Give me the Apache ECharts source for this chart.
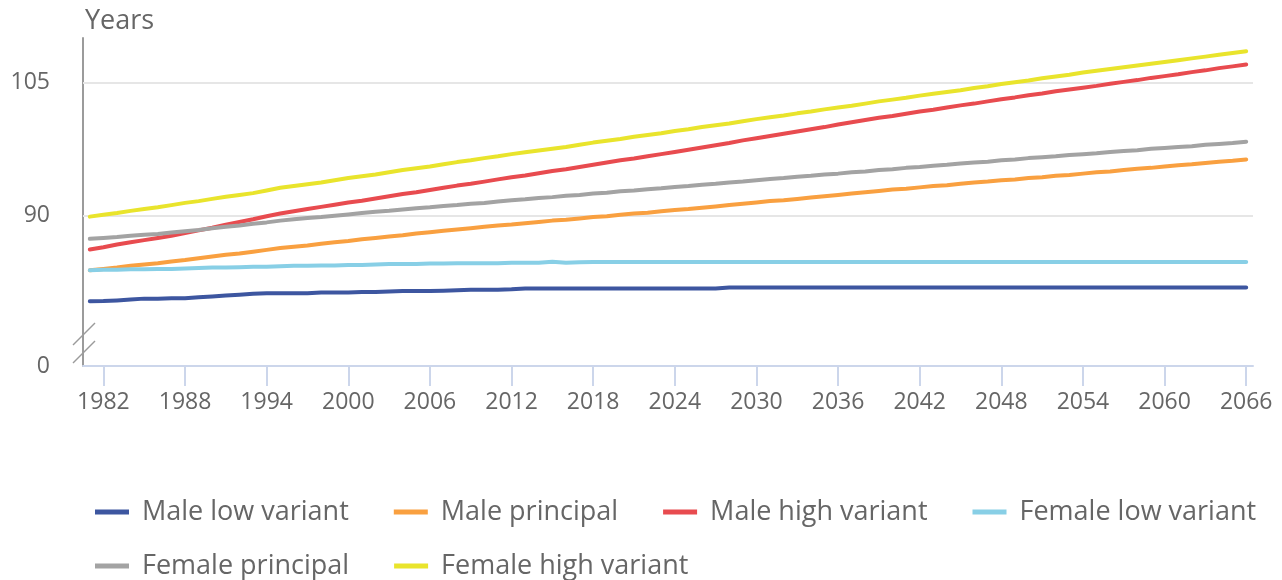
<!DOCTYPE html>
<html>
<head>
<meta charset="utf-8">
<script src="https://cdn.jsdelivr.net/npm/echarts@6/dist/echarts.min.js"></script>
<style>
  html, body { margin: 0; padding: 0; background: #fff; }
  #chart { width: 1282px; height: 580px; }
</style>
</head>
<body>
<div id="chart"></div>
<script>
const years = [
  1981, 1982, 1983, 1984, 1985, 1986, 1987, 1988, 1989, 1990,
  1991, 1992, 1993, 1994, 1995, 1996, 1997, 1998, 1999, 2000,
  2001, 2002, 2003, 2004, 2005, 2006, 2007, 2008, 2009, 2010,
  2011, 2012, 2013, 2014, 2015, 2016, 2017, 2018, 2019, 2020,
  2021, 2022, 2023, 2024, 2025, 2026, 2027, 2028, 2029, 2030,
  2031, 2032, 2033, 2034, 2035, 2036, 2037, 2038, 2039, 2040,
  2041, 2042, 2043, 2044, 2045, 2046, 2047, 2048, 2049, 2050,
  2051, 2052, 2053, 2054, 2055, 2056, 2057, 2058, 2059, 2060,
  2061, 2062, 2063, 2064, 2065, 2066
]

const maleLow = [
  80.3, 80.32, 80.4, 80.5, 80.6, 80.6, 80.65, 80.65, 80.75, 80.85,
  80.95, 81.05, 81.15, 81.2, 81.2, 81.2, 81.2, 81.3, 81.3, 81.3,
  81.35, 81.35, 81.4, 81.45, 81.45, 81.45, 81.5, 81.55, 81.6, 81.6,
  81.6, 81.65, 81.75, 81.75, 81.75, 81.75, 81.75, 81.75, 81.75, 81.75,
  81.75, 81.75, 81.75, 81.75, 81.75, 81.75, 81.75, 81.85, 81.85, 81.85,
  81.85, 81.85, 81.85, 81.85, 81.85, 81.85, 81.85, 81.85, 81.85, 81.85,
  81.85, 81.85, 81.85, 81.85, 81.85, 81.85, 81.85, 81.85, 81.85, 81.85,
  81.85, 81.85, 81.85, 81.85, 81.85, 81.85, 81.85, 81.85, 81.85, 81.85,
  81.85, 81.85, 81.85, 81.85, 81.85, 81.85
]
const malePrincipal = [
  83.8, 83.95, 84.1, 84.3, 84.45, 84.6, 84.8, 84.95, 85.15, 85.35,
  85.55, 85.7, 85.9, 86.1, 86.3, 86.45, 86.6, 86.8, 86.95, 87.1,
  87.3, 87.45, 87.6, 87.75, 87.95, 88.1, 88.25, 88.4, 88.55, 88.7,
  88.85, 88.95, 89.1, 89.25, 89.4, 89.5, 89.65, 89.8, 89.9, 90.05,
  90.2, 90.3, 90.45, 90.6, 90.7, 90.85, 91.0, 91.15, 91.3, 91.45,
  91.6, 91.7, 91.85, 92.0, 92.15, 92.3, 92.45, 92.6, 92.75, 92.9,
  93.0, 93.15, 93.3, 93.4, 93.55, 93.7, 93.8, 93.95, 94.05, 94.2,
  94.3, 94.45, 94.55, 94.7, 94.85, 94.95, 95.1, 95.25, 95.35, 95.5,
  95.65, 95.75, 95.9, 96.05, 96.15, 96.3
]
const maleHigh = [
  86.15, 86.4, 86.7, 86.95, 87.2, 87.45, 87.7, 88.0, 88.3, 88.6,
  88.95, 89.25, 89.55, 89.9, 90.2, 90.45, 90.7, 90.95, 91.2, 91.45,
  91.65, 91.9, 92.15, 92.4, 92.6, 92.85, 93.1, 93.35, 93.55, 93.8,
  94.05, 94.3, 94.5, 94.75, 95.0, 95.2, 95.45, 95.7, 95.95, 96.2,
  96.4, 96.65, 96.9, 97.15, 97.4, 97.65, 97.9, 98.15, 98.45, 98.7,
  98.95, 99.2, 99.45, 99.7, 99.95, 100.25, 100.5, 100.75, 101.0, 101.2,
  101.45, 101.7, 101.9, 102.15, 102.4, 102.6, 102.85, 103.1, 103.3, 103.55,
  103.75, 104.0, 104.2, 104.4, 104.6, 104.85, 105.05, 105.25, 105.5, 105.7,
  105.9, 106.15, 106.35, 106.6, 106.8, 107.0
]
const femaleLow = [
  83.8, 83.85, 83.85, 83.9, 83.9, 83.95, 83.95, 84.0, 84.05, 84.1,
  84.1, 84.15, 84.2, 84.2, 84.25, 84.3, 84.3, 84.35, 84.35, 84.4,
  84.4, 84.45, 84.5, 84.5, 84.5, 84.55, 84.55, 84.6, 84.6, 84.6,
  84.6, 84.65, 84.65, 84.65, 84.75, 84.65, 84.7, 84.72, 84.72, 84.72,
  84.72, 84.72, 84.72, 84.72, 84.72, 84.72, 84.72, 84.72, 84.72, 84.72,
  84.72, 84.72, 84.72, 84.72, 84.72, 84.72, 84.72, 84.72, 84.72, 84.72,
  84.72, 84.72, 84.72, 84.72, 84.72, 84.72, 84.72, 84.72, 84.72, 84.72,
  84.72, 84.72, 84.72, 84.72, 84.72, 84.72, 84.72, 84.72, 84.72, 84.72,
  84.72, 84.72, 84.72, 84.72, 84.72, 84.72
]
const femalePrincipal = [
  87.35, 87.45, 87.55, 87.7, 87.8, 87.9, 88.05, 88.2, 88.35, 88.55,
  88.7, 88.85, 89.05, 89.2, 89.4, 89.55, 89.7, 89.8, 89.95, 90.1,
  90.25, 90.4, 90.5, 90.65, 90.8, 90.9, 91.05, 91.15, 91.3, 91.4,
  91.55, 91.7, 91.8, 91.95, 92.05, 92.2, 92.3, 92.45, 92.55, 92.7,
  92.8, 92.95, 93.05, 93.2, 93.3, 93.45, 93.55, 93.7, 93.8, 93.95,
  94.1, 94.2, 94.35, 94.45, 94.6, 94.7, 94.85, 94.95, 95.1, 95.2,
  95.35, 95.45, 95.6, 95.7, 95.85, 95.95, 96.05, 96.2, 96.3, 96.45,
  96.55, 96.65, 96.8, 96.9, 97.0, 97.15, 97.25, 97.35, 97.5, 97.6,
  97.7, 97.8, 97.95, 98.05, 98.15, 98.3
]
const femaleHigh = [
  89.85, 90.05, 90.25, 90.5, 90.7, 90.9, 91.15, 91.4, 91.6, 91.85,
  92.1, 92.3, 92.5, 92.8, 93.1, 93.3, 93.5, 93.7, 93.95, 94.2,
  94.4, 94.6, 94.85, 95.1, 95.3, 95.5, 95.75, 96.0, 96.2, 96.45,
  96.65, 96.9, 97.1, 97.3, 97.5, 97.7, 97.95, 98.2, 98.4, 98.6,
  98.85, 99.05, 99.25, 99.5, 99.7, 99.95, 100.15, 100.35, 100.6, 100.85,
  101.05, 101.25, 101.5, 101.7, 101.95, 102.15, 102.35, 102.6, 102.85, 103.05,
  103.25, 103.5, 103.7, 103.9, 104.1, 104.35, 104.55, 104.8, 105.0, 105.2,
  105.45, 105.65, 105.85, 106.1, 106.3, 106.5, 106.7, 106.9, 107.1, 107.3,
  107.5, 107.7, 107.9, 108.1, 108.3, 108.5
]

const seriesNames = ['Male low variant', 'Male principal', 'Male high variant',
  'Female low variant', 'Female principal', 'Female high variant']
const seriesColors = ['#3d56a0', '#f9a040', '#e84b4f', '#88cfe6', '#a3a3a3', '#e9e42c']
const seriesData = [maleLow, malePrincipal, maleHigh, femaleLow, femalePrincipal, femaleHigh]

// y axis starts at a broken "0", real scale runs from 73 upward
const yMin = 73
const yMax = 110
const yLabels = [yMin, 90, 105]
const gridValues = [90, 105]

const font = '"Open Sans", "Noto Sans", sans-serif'
const showYear = (idx, val) => (Number(val) - 1982) % 6 === 0

let chart = echarts.init(document.getElementById('chart'))

let series = seriesNames.map((name, i) => {
  let s = {
    name: name,
    type: 'line',
    data: seriesData[i],
    showSymbol: false,
    symbol: 'none',
    color: seriesColors[i],
    lineStyle: { width: 4, color: seriesColors[i], cap: 'round', join: 'round' },
    z: 3
  }
  if (i === 0) {
    s.markLine = {
      silent: true,
      symbol: 'none',
      z: 1,
      label: { show: false },
      lineStyle: { color: '#e6e6e6', width: 2, type: 'solid' },
      data: gridValues.map(v => ({ yAxis: v }))
    }
  }
  return s
})

let option = {
  animation: false,
  backgroundColor: '#fff',
  textStyle: { fontFamily: font },
  grid: { left: 83, right: 29, top: 38, bottom: 214, containLabel: false, outerBoundsMode: 'none' },
  legend: {
    left: 95,
    top: 485,
    width: 1220,
    padding: 0,
    itemGap: 0,
    itemWidth: 34,
    itemHeight: 5,
    icon: 'rect',
    data: seriesNames,
    textStyle: {
      fontFamily: font,
      fontSize: 27,
      color: '#666',
      lineHeight: 54,
      padding: [0, 45, 0, 8]
    }
  },
  xAxis: {
    type: 'category',
    data: years,
    boundaryGap: true,
    axisLine: { lineStyle: { color: '#ccd6eb', width: 2 } },
    axisTick: {
      show: true,
      alignWithLabel: true,
      interval: showYear,
      length: 20,
      lineStyle: { color: '#ccd6eb', width: 2 }
    },
    axisLabel: {
      interval: showYear,
      fontFamily: font,
      fontSize: 23,
      color: '#666',
      margin: 25
    },
    splitLine: { show: false }
  },
  yAxis: {
    type: 'value',
    min: yMin,
    max: yMax,
    name: 'Years',
    nameLocation: 'end',
    nameGap: 3,
    nameTextStyle: { fontFamily: font, fontSize: 27, color: '#666', align: 'left', padding: [0, 0, 0, 2] },
    axisLine: { show: true, lineStyle: { color: '#9b9b9b', width: 2 } },
    axisTick: { show: false },
    splitLine: { show: false },
    axisLabel: {
      customValues: yLabels,
      fontFamily: font,
      fontSize: 23,
      color: '#666',
      margin: 33,
      formatter: v => (v === yMin ? '0' : String(v))
    }
  },
  graphic: [
    { type: 'line', shape: { x1: 73, y1: 345, x2: 95, y2: 323 }, style: { stroke: '#9b9b9b', lineWidth: 1.5 }, z: 10 },
    { type: 'line', shape: { x1: 73, y1: 363, x2: 95, y2: 341 }, style: { stroke: '#9b9b9b', lineWidth: 1.5 }, z: 10 }
  ],
  series: series
}

chart.setOption(option)
</script>
</body>
</html>
